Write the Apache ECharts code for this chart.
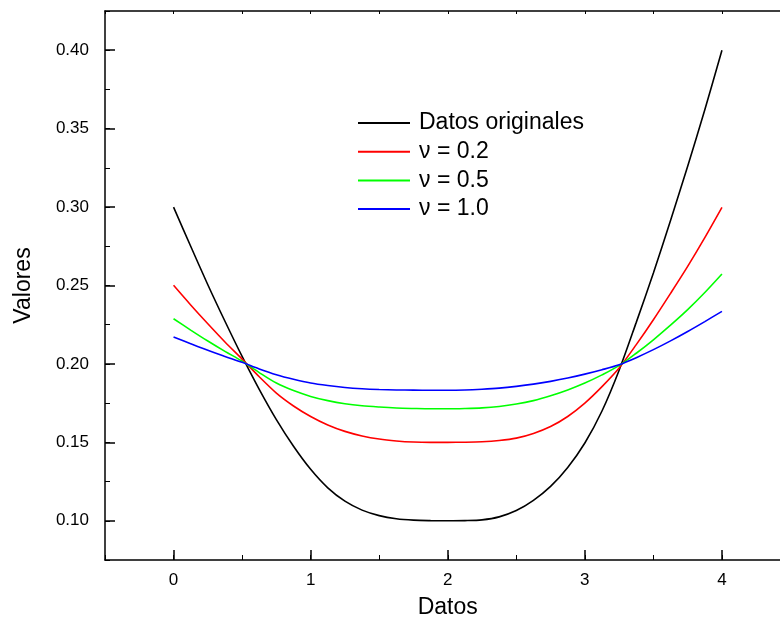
<!DOCTYPE html>
<html>
<head>
<meta charset="utf-8">
<script src="https://cdn.jsdelivr.net/npm/echarts@6/dist/echarts.min.js"></script>
<style>html,body{margin:0;padding:0;background:#fff}#c{width:780px;height:618px}</style>
</head>
<body>
<div id="c"></div>
<script>
var xs = [0, 0.125, 0.25, 0.375, 0.5, 0.625, 0.75, 0.875, 1, 1.125, 1.25, 1.375, 1.5, 1.625, 1.75, 1.875, 2,
          2.125, 2.25, 2.375, 2.5, 2.625, 2.75, 2.875, 3, 3.125, 3.25, 3.375, 3.5, 3.625, 3.75, 3.875, 4];
var datosOriginales = [0.300, 0.2750, 0.2505, 0.2272, 0.2048, 0.1838, 0.1645, 0.1475, 0.1328, 0.1210, 0.1125, 0.1068, 0.1033, 0.1013, 0.1004, 0.1001, 0.1000,
                       0.1001, 0.1006, 0.1025, 0.1065, 0.1130, 0.1219, 0.1340, 0.1496, 0.1700, 0.1960, 0.2265, 0.2580, 0.2915, 0.3260, 0.3620, 0.4000];
var nu02 = [0.2501, 0.2376, 0.2256, 0.2140, 0.2031, 0.1918, 0.1814, 0.1732, 0.1665, 0.1611, 0.1570, 0.1541, 0.1521, 0.1509, 0.1502, 0.1500, 0.1500,
            0.1501, 0.1504, 0.1512, 0.1527, 0.1557, 0.1601, 0.1665, 0.1750, 0.1855, 0.1974, 0.2123, 0.2282, 0.2450, 0.2622, 0.2805, 0.2998];
var nu05 = [0.2288, 0.2216, 0.2146, 0.2080, 0.2018, 0.1945, 0.1878, 0.1830, 0.1793, 0.1766, 0.1746, 0.1733, 0.1725, 0.1719, 0.1716, 0.1714, 0.1714,
            0.1716, 0.1720, 0.1729, 0.1744, 0.1766, 0.1797, 0.1834, 0.1878, 0.1930, 0.1989, 0.2068, 0.2154, 0.2247, 0.2346, 0.2455, 0.2573];
var nu10 = [0.2172, 0.2129, 0.2087, 0.2048, 0.2010, 0.1968, 0.1931, 0.1902, 0.1878, 0.1862, 0.1850, 0.1842, 0.1837, 0.1834, 0.1833, 0.1832, 0.1832,
            0.1834, 0.1839, 0.1846, 0.1857, 0.1871, 0.1889, 0.1910, 0.1935, 0.1963, 0.1995, 0.2040, 0.2091, 0.2147, 0.2207, 0.2270, 0.2335];
var seriesNames = ['Datos originales', 'ν = 0.2', 'ν = 0.5', 'ν = 1.0'];
var seriesColors = ['#000000', '#ff0000', '#00ff00', '#0000ff'];
var xName = 'Datos';
var yName = 'Valores';

function pairs(v) { return xs.map(function (x, i) { return [x, v[i]]; }); }
var allData = [datosOriginales, nu02, nu05, nu10];
var FONT = 'Liberation Sans, Arial, sans-serif';

var chart = echarts.init(document.getElementById('c'));
chart.setOption({
  animation: false,
  backgroundColor: '#ffffff',
  grid: { left: 105, top: 11, width: 685.5, height: 549, containLabel: false, outerBoundsMode: 'none' },
  legend: {
    orient: 'vertical', left: 353, top: 106.5,
    itemWidth: 52, itemHeight: 2, itemGap: 5.7,
    textStyle: { fontFamily: FONT, fontSize: 23, color: '#000', padding: [0, 0, 0, 4] },
    data: seriesNames.map(function (n) { return { name: n, icon: 'rect' }; })
  },
  xAxis: [
    {
      type: 'value', min: -0.5, max: 4.5, minInterval: 1, maxInterval: 1, position: 'bottom',
      name: xName, nameLocation: 'middle', nameGap: 36,
      nameTextStyle: { fontFamily: FONT, fontSize: 23, color: '#000' },
      axisLine: { show: true, onZero: false, lineStyle: { color: '#000', width: 1.5 } },
      axisTick: { show: true, inside: true, length: 10, lineStyle: { color: '#000', width: 1.5 } },
      axisLabel: { show: true, margin: 12, fontFamily: FONT, fontSize: 17, color: '#000', showMinLabel: false, showMaxLabel: false },
      splitLine: { show: false }
    },
    {
      type: 'value', min: -0.5, max: 4.5, interval: 0.5, position: 'bottom',
      axisLine: { show: false, onZero: false },
      axisTick: { show: true, inside: true, length: 5, lineStyle: { color: '#000', width: 1 } },
      axisLabel: { show: false }, splitLine: { show: false }
    },
    {
      type: 'value', min: -0.5, max: 4.5, interval: 0.5, position: 'top',
      axisLine: { show: true, onZero: false, lineStyle: { color: '#000', width: 1.5 } },
      axisTick: { show: true, inside: true, length: 3, lineStyle: { color: '#000', width: 1 } },
      axisLabel: { show: false }, splitLine: { show: false }
    }
  ],
  yAxis: [
    {
      type: 'value', min: 0.075, max: 0.425, minInterval: 0.05, maxInterval: 0.05, position: 'left',
      name: yName, nameLocation: 'middle', nameGap: 70, nameRotate: 90,
      nameTextStyle: { fontFamily: FONT, fontSize: 23, color: '#000' },
      axisLine: { show: true, onZero: false, lineStyle: { color: '#000', width: 1.5 } },
      axisTick: { show: true, inside: true, length: 10, lineStyle: { color: '#000', width: 1.5 } },
      axisLabel: { show: true, margin: 16, fontFamily: FONT, fontSize: 17, color: '#000', showMinLabel: false, showMaxLabel: false,
        formatter: function (v) { return v.toFixed(2); } },
      splitLine: { show: false }
    },
    {
      type: 'value', min: 0.075, max: 0.425, interval: 0.025, position: 'left',
      axisLine: { show: false, onZero: false },
      axisTick: { show: true, inside: true, length: 5, lineStyle: { color: '#000', width: 1 } },
      axisLabel: { show: false }, splitLine: { show: false }
    }
  ],
  series: allData.map(function (d, i) {
    return {
      name: seriesNames[i], type: 'line', xAxisIndex: 0, yAxisIndex: 0,
      data: pairs(d), smooth: 0.3, symbol: 'none',
      lineStyle: { color: seriesColors[i], width: 1.6 },
      itemStyle: { color: seriesColors[i] }
    };
  })
});
</script>
</body>
</html>
